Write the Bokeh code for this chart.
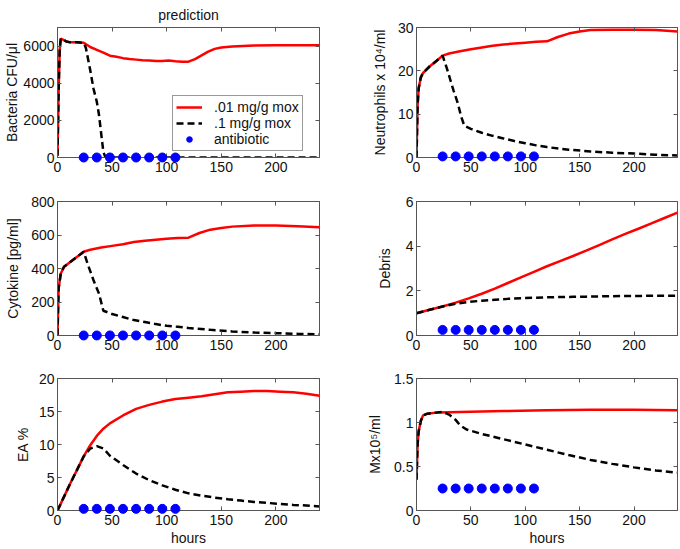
from bokeh.plotting import figure
from bokeh.layouts import gridplot
from bokeh.models import Range1d, FixedTicker, LinearAxis, Legend, LegendItem, NumeralTickFormatter
from bokeh.embed import file_html
from bokeh.resources import INLINE

# ---------------- data ----------------
x_ticks = [0, 50, 100, 150, 200]

dose_hours = [24, 36, 48, 60, 72, 84, 96, 108]
dose_level = [0.25, 0.25, 0.25, 0.25, 0.25, 0.25, 0.25, 0.25]

# Bacteria CFU/ul
t_bact_low = [0, 1, 2, 3, 5, 8, 12, 18, 24, 30, 36, 42, 48, 54, 60, 66, 72, 78, 84, 90, 96, 102, 108,
              114, 120, 126, 132, 138, 144, 150, 160, 170, 180, 200, 220, 240]
bact_low = [100, 3500, 5800, 6400, 6350, 6250, 6200, 6200, 6180, 5950, 5800, 5650, 5480, 5420, 5350,
            5300, 5270, 5240, 5220, 5190, 5200, 5220, 5180, 5150, 5160, 5300, 5500, 5700, 5850, 5920,
            5980, 6010, 6030, 6050, 6050, 6050]
t_bact_high = [0, 1, 2, 3, 5, 8, 12, 18, 24, 26, 30, 33, 36, 38, 40, 42, 44, 60, 100, 150, 200, 240]
bact_high = [100, 3500, 5800, 6400, 6350, 6250, 6200, 6200, 6180, 5900, 4700, 3700, 3000, 2300, 1300,
             300, 0, 0, 0, 0, 0, 0]

# Neutrophils x 10^4/ml
t_neut_low = [0, 1, 2, 4, 6, 8, 12, 18, 24, 30, 40, 50, 60, 70, 80, 90, 100, 110, 120, 130, 140, 150,
              160, 180, 200, 220, 240]
neut_low = [0, 12, 16, 18.5, 19.5, 20, 21, 22.2, 23.5, 24, 24.5, 25, 25.4, 25.8, 26.1, 26.3, 26.5,
            26.7, 26.8, 27.8, 28.6, 29.1, 29.4, 29.5, 29.5, 29.4, 29.1]
t_neut_high = [0, 1, 2, 4, 6, 8, 12, 18, 24, 28, 31, 34, 38, 41, 44, 50, 60, 70, 80, 90, 100, 110, 120,
               140, 160, 180, 200, 220, 240]
neut_high = [0, 12, 16, 18.5, 19.5, 20, 21, 22.2, 23.5, 20.5, 18, 15.5, 12.5, 9.5, 7.3, 6.6, 5.7, 5.0,
             4.4, 3.8, 3.3, 2.8, 2.4, 1.8, 1.4, 1.1, 0.9, 0.65, 0.45]

# Cytokine [pg/ml]
t_cyto_low = [0, 1, 3, 6, 12, 18, 24, 30, 40, 50, 60, 70, 80, 90, 100, 110, 120, 130, 140, 150, 160,
              180, 200, 220, 240]
cyto_low = [0, 280, 370, 410, 440, 470, 500, 512, 525, 535, 545, 558, 566, 572, 578, 582, 584, 612, 632,
            642, 650, 656, 656, 652, 646]
t_cyto_high = [0, 1, 3, 6, 12, 18, 24, 28, 33, 38, 42, 50, 60, 70, 80, 90, 100, 110, 120, 140, 160, 180,
               200, 220, 240]
cyto_high = [0, 280, 370, 410, 440, 470, 500, 420, 330, 250, 148, 128, 110, 92, 80, 68, 58, 52, 45, 34,
             24, 18, 14, 10, 7]

# Debris
t_debris = [0, 12, 24, 36, 48, 60, 72, 84, 96, 108, 120, 132, 144, 156, 168, 180, 192, 204, 216, 228, 240]
debris_low = [1.0, 1.15, 1.3, 1.47, 1.66, 1.87, 2.1, 2.35, 2.6, 2.85, 3.1, 3.33, 3.56, 3.8, 4.05, 4.3,
              4.55, 4.78, 5.02, 5.26, 5.5]
debris_high = [1.0, 1.15, 1.3, 1.42, 1.5, 1.56, 1.6, 1.64, 1.67, 1.69, 1.71, 1.72, 1.73, 1.74, 1.75,
               1.76, 1.77, 1.77, 1.78, 1.78, 1.78]

# EA %
t_ea = [0, 6, 12, 18, 24, 30, 36, 42, 48, 60, 72, 84, 96, 108, 120, 132, 144, 156, 168, 180, 192, 204,
        216, 228, 240]
ea_low = [0, 2.1, 4.2, 6.2, 8.2, 9.9, 11.3, 12.4, 13.2, 14.4, 15.4, 16.0, 16.5, 16.9, 17.1, 17.3, 17.6,
          17.9, 18.0, 18.1, 18.1, 18.0, 17.9, 17.7, 17.4]
ea_high = [0, 2.1, 4.2, 6.2, 8.2, 9.4, 9.75, 9.4, 8.3, 6.9, 5.6, 4.6, 3.8, 3.15, 2.6, 2.25, 1.95, 1.7,
           1.5, 1.3, 1.15, 1.0, 0.85, 0.75, 0.6]

# Mx10^5/ml
t_mx_low = [0, 1, 2, 4, 6, 10, 20, 40, 80, 120, 160, 200, 240]
mx_low = [0.35, 0.75, 0.9, 1.02, 1.08, 1.1, 1.115, 1.12, 1.13, 1.14, 1.145, 1.145, 1.14]
t_mx_high = [0, 1, 2, 4, 6, 10, 20, 24, 30, 36, 40, 46, 60, 80, 100, 120, 140, 160, 180, 200, 220, 240]
mx_high = [0.35, 0.75, 0.9, 1.02, 1.08, 1.1, 1.115, 1.12, 1.09, 1.03, 0.97, 0.92, 0.87, 0.81, 0.75,
           0.69, 0.63, 0.575, 0.53, 0.49, 0.455, 0.43]

legend_labels = [".01 mg/g mox", ".1 mg/g mox", "antibiotic"]

# ---------------- styling ----------------
FONT = "Liberation Sans"
FS = "14px"
AXC = "#555555"
TXT = "#111111"


def style_axis(ax, show_labels=True):
    ax.axis_line_color = AXC
    ax.major_tick_line_color = AXC
    ax.major_tick_in = 4
    ax.major_tick_out = 0
    ax.minor_tick_line_color = None
    ax.major_label_text_font = FONT
    ax.major_label_text_font_size = FS if show_labels else "0px"
    ax.major_label_text_color = TXT if show_labels else None
    ax.major_label_standoff = 3 if show_labels else 0
    ax.axis_label_text_font = FONT
    ax.axis_label_text_font_size = FS
    ax.axis_label_text_font_style = "normal"
    ax.axis_label_text_color = TXT


def panel(width, height, bl, br, bt, bb, ymax, yticks, ylabel, tlow, ylow, thigh, yhigh,
          xlabel=None, title=None, yfmt=None, ylab_standoff=6):
    p = figure(width=width, height=height, output_backend="svg", toolbar_location=None,
               x_range=Range1d(0, 240), y_range=Range1d(0, ymax),
               min_border_left=bl, min_border_right=br, min_border_top=bt, min_border_bottom=bb,
               background_fill_color="white", border_fill_color="white")
    p.grid.visible = False
    p.outline_line_color = AXC
    p.xaxis.ticker = FixedTicker(ticks=x_ticks)
    p.yaxis.ticker = FixedTicker(ticks=yticks)
    if yfmt is not None:
        p.yaxis.formatter = yfmt
    style_axis(p.xaxis[0])
    style_axis(p.yaxis[0])
    p.xaxis.major_label_standoff = 4
    p.yaxis.axis_label = ylabel
    p.yaxis.axis_label_standoff = ylab_standoff
    if xlabel:
        p.xaxis.axis_label = xlabel
        p.xaxis.axis_label_standoff = 2
    top = LinearAxis(ticker=FixedTicker(ticks=x_ticks))
    style_axis(top, False)
    p.add_layout(top, "above")
    right = LinearAxis(ticker=FixedTicker(ticks=yticks))
    style_axis(right, False)
    p.add_layout(right, "right")
    if title:
        p.title.text = title
        p.title.align = "center"
        p.title.text_font = FONT
        p.title.text_font_size = FS
        p.title.text_font_style = "normal"
        p.title.text_color = TXT
        p.title.standoff = 9
    r1 = p.line(tlow, ylow, line_color="#ff0000", line_width=2.5)
    r2 = p.line(thigh, yhigh, line_color="black", line_width=2.5, line_dash="7 4")
    r3 = p.scatter(dose_hours, dose_level, size=9, marker="circle", fill_color="#0000ff",
                   line_color="#0000ff")
    r3.level = "overlay"
    return p, (r1, r2, r3)


W1, W2 = 340, 340
H1, H2, H3 = 180, 178, 190
p1, rs = panel(W1, H1, 57, 21, 23, 23, 7000, [0, 2000, 4000, 6000], "Bacteria CFU/\u03bcl",
               t_bact_low, bact_low, t_bact_high, bact_high, title="prediction", ylab_standoff=0)
p2, _ = panel(W2, H1, 76, 3, 23, 23, 30, [0, 10, 20, 30], "Neutrophils x 10\u2074/ml",
              t_neut_low, neut_low, t_neut_high, neut_high, ylab_standoff=7)
p3, _ = panel(W1, H2, 57, 21, 21, 23, 800, [0, 200, 400, 600, 800], "Cytokine [pg/ml]",
              t_cyto_low, cyto_low, t_cyto_high, cyto_high, ylab_standoff=7)
p4, _ = panel(W2, H2, 76, 3, 21, 23, 6, [0, 2, 4, 6], "Debris",
              t_debris, debris_low, t_debris, debris_high, ylab_standoff=10)
p5, _ = panel(W1, H3, 57, 21, 20, 35, 20, [0, 5, 10, 15, 20], "EA %",
              t_ea, ea_low, t_ea, ea_high, xlabel="hours", ylab_standoff=5)
p6, _ = panel(W2, H3, 76, 3, 20, 35, 1.5, [0, 0.5, 1, 1.5], "Mx10\u2075/ml",
              t_mx_low, mx_low, t_mx_high, mx_high, xlabel="hours",
              yfmt=NumeralTickFormatter(format="0.[0]"), ylab_standoff=8)

legend = Legend(items=[LegendItem(label=legend_labels[0], renderers=[rs[0]]),
                       LegendItem(label=legend_labels[1], renderers=[rs[1]]),
                       LegendItem(label=legend_labels[2], renderers=[rs[2]])],
                location=(115, 6), margin=0, padding=3, spacing=0,
                glyph_width=26, glyph_height=14, label_height=14, label_standoff=12,
                label_text_font=FONT, label_text_font_size=FS, label_text_color=TXT,
                border_line_color="#333333", border_line_width=1,
                background_fill_color="white", background_fill_alpha=1.0)
p1.add_layout(legend)

grid = gridplot([[p1, p2], [p3, p4], [p5, p6]], toolbar_location=None)

open("out.html", "w").write(file_html(grid, INLINE))
